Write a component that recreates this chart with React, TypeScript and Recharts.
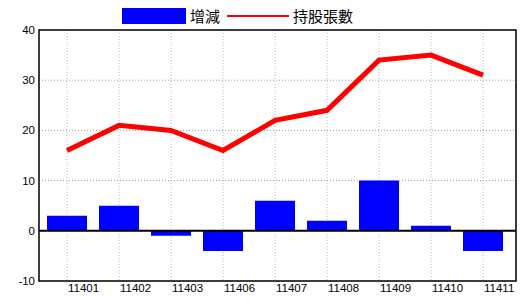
import * as R from "recharts";
import { ComposedChart, Bar, Line, XAxis, YAxis, CartesianGrid, ReferenceLine } from "recharts";

const months = ["11401", "11402", "11403", "11406", "11407", "11408", "11409", "11410", "11411"];
const changeValues = [3, 5, -1, -4, 6, 2, 10, 1, -4];
const holderValues = [16, 21, 20, 16, 22, 24, 34, 35, 31];
const yTicks = [-10, 0, 10, 20, 30, 40];

const data = months.map((m, i) => ({
  month: m,
  change: changeValues[i],
  holders: holderValues[i]
}));

const tickFont = "'Liberation Sans', Arial, sans-serif";
const cjkFont = "'Noto Sans CJK TC', 'Noto Sans CJK SC', sans-serif";

const usePlotArea: () => any = (R as any).usePlotArea || (() => null);

// black box round the plot area
function PlotFrame() {
  const p = usePlotArea();
  if (!p) return null;
  return (
    <rect
      x={p.x}
      y={p.y}
      width={p.width}
      height={p.height}
      fill="none"
      stroke="#000"
      strokeWidth={1.5}
    />
  );
}

// legend drawn by hand: blue box + red line like the original image
function ChartLegend() {
  return (
    <div
      style={{
        position: "absolute",
        left: 122,
        top: 8,
        display: "flex",
        alignItems: "center",
        fontFamily: cjkFont,
        fontSize: 15,
        color: "#000",
        lineHeight: "16px"
      }}
    >
      <span style={{ display: "inline-block", width: 64, height: 16, background: "#0000ff" }} />
      <span style={{ marginLeft: 4 }}>增減</span>
      <span style={{ display: "inline-block", width: 62, height: 2, background: "#ff0000", marginLeft: 7 }} />
      <span style={{ marginLeft: 4 }}>持股張數</span>
    </div>
  );
}

function MonthTick(props: any) {
  const { x, y, payload } = props;
  return (
    <text x={x + 1} y={y + 11} textAnchor="start" fontSize={11.5} fontFamily={tickFont} fill="#000">
      {payload.value}
    </text>
  );
}

function ValueTick(props: any) {
  const { x, y, payload } = props;
  return (
    <text x={x - 4} y={y + 4} textAnchor="end" fontSize={11.5} fontFamily={tickFont} fill="#000">
      {payload.value}
    </text>
  );
}

export default function App() {
  return (
    <div style={{ position: "absolute", left: 0, top: 0, width: 520, height: 300, background: "#fff" }}>
      <ComposedChart width={520} height={300} data={data} margin={{ top: 30, right: 4, bottom: 0, left: 0 }}>
        <CartesianGrid horizontal={false} stroke="#a8bccc" strokeDasharray="1 2" />
        <CartesianGrid vertical={false} stroke="#a0a0a0" strokeDasharray="1 2" />
        <XAxis
          dataKey="month"
          height={19}
          padding={{ left: 2, right: 7 }}
          tickLine={false}
          tickSize={0}
          tickMargin={0}
          axisLine={false}
          tick={<MonthTick />}
          interval={0}
        />
        <YAxis
          width={39}
          domain={[-10, 40]}
          ticks={yTicks}
          tickLine={false}
          tickSize={0}
          tickMargin={0}
          axisLine={false}
          tick={<ValueTick />}
          interval={0}
        />
        <Bar dataKey="change" fill="#0000ff" barSize={40} isAnimationActive={false} />
        <ReferenceLine y={0} stroke="#000" strokeWidth={2} />
        <Line
          type="linear"
          dataKey="holders"
          stroke="#ff0000"
          strokeWidth={5}
          dot={false}
          activeDot={false}
          isAnimationActive={false}
        />
        <PlotFrame />
      </ComposedChart>
      <ChartLegend />
    </div>
  );
}
